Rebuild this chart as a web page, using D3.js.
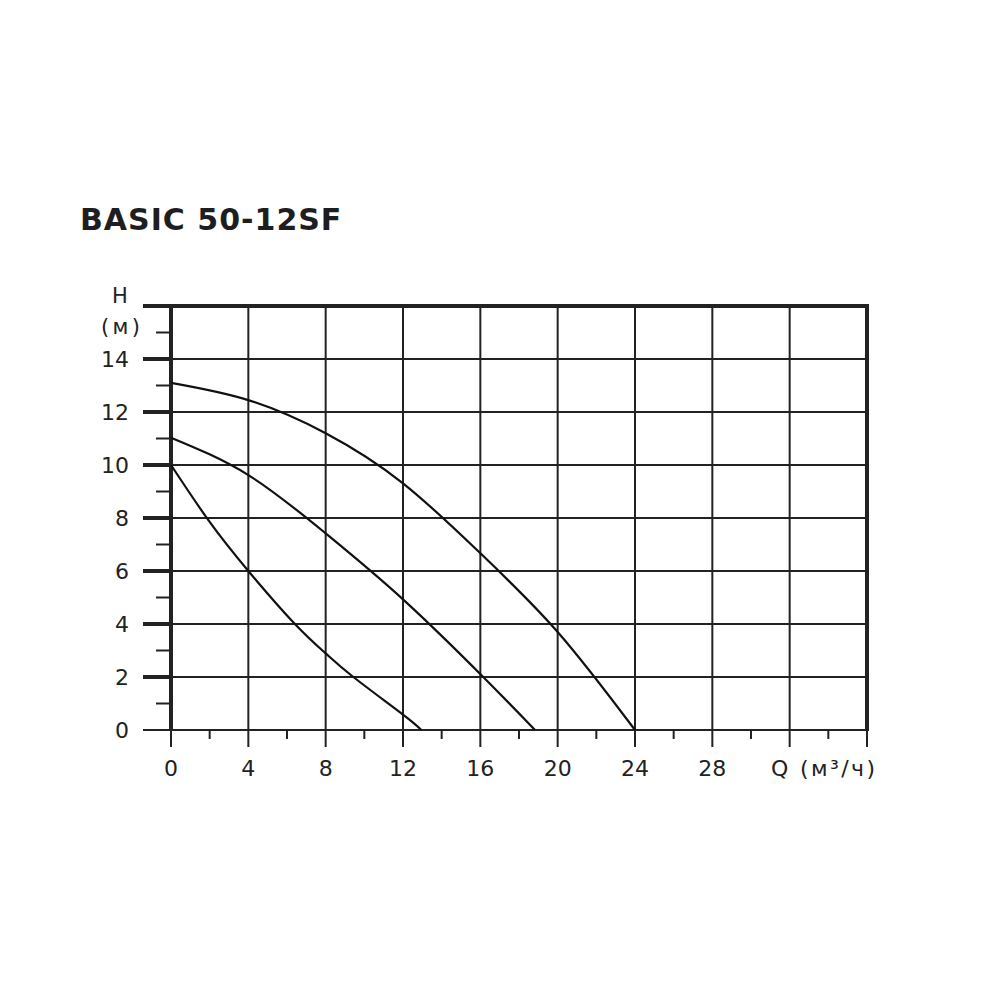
<!DOCTYPE html>
<html>
<head>
<meta charset="utf-8">
<script src="https://cdn.jsdelivr.net/npm/d3@7"></script>
<style>
  html, body { margin: 0; padding: 0; background: #fff; }
  svg { display: block; }
  text { font-family: "DejaVu Sans", Verdana, sans-serif; fill: #222; }
</style>
</head>
<body>
<svg id="chart" width="1000" height="1000"></svg>
<script>
// ---- data ----
const title = "BASIC 50-12SF";
const xTickValues = [0, 4, 8, 12, 16, 20, 24, 28];
const xMinorTicks = [2, 6, 10, 14, 18, 22, 26, 30, 34];
const xGridValues = [4, 8, 12, 16, 20, 24, 28, 32];
const yTickValues = [0, 2, 4, 6, 8, 10, 12, 14];
const yMinorTicks = [1, 3, 5, 7, 9, 11, 13, 15];
const xAxisLabel = "Q (м³/ч)";
const yAxisLabel1 = "H";
const yAxisLabel2 = "(м)";

const curveHighQ = [0, 4, 8, 12, 16, 20, 24];
const curveHighH = [13.1, 12.45, 11.2, 9.31, 6.67, 3.7, 0];
const curveMidQ = [0, 4, 8, 12, 16.15, 18.83];
const curveMidH = [11.03, 9.62, 7.42, 4.93, 2, 0];
const curveLowQ = [0, 2, 4, 6.41, 8, 9.43, 12, 12.95];
const curveLowH = [10, 7.85, 6, 4, 2.89, 2, 0.58, 0];

// ---- layout ----
const svg = d3.select("#chart");
const x = d3.scaleLinear().domain([0, 36]).range([171, 867]);
const y = d3.scaleLinear().domain([0, 16]).range([730, 306]);
const ink = "#222";

// title
svg.append("text")
  .attr("x", 80).attr("y", 230)
  .attr("font-size", 30).attr("font-weight", "bold")
  .attr("letter-spacing", 1)
  .style("fill", "#1e1e1e")
  .text(title);

const g = svg.append("g");

// horizontal grid lines (thin) for even values 2..14
g.selectAll("line.hgrid").data(yTickValues.filter(v => v > 0)).join("line")
  .attr("x1", x(0)).attr("x2", x(36))
  .attr("y1", d => y(d)).attr("y2", d => y(d))
  .attr("stroke", ink).attr("stroke-width", 2);

// vertical grid lines, extending down as ticks
g.selectAll("line.vgrid").data(xGridValues).join("line")
  .attr("x1", d => x(d)).attr("x2", d => x(d))
  .attr("y1", y(16)).attr("y2", y(0) + 17)
  .attr("stroke", ink).attr("stroke-width", 2);

// x minor ticks
g.selectAll("line.xminor").data(xMinorTicks).join("line")
  .attr("x1", d => x(d)).attr("x2", d => x(d))
  .attr("y1", y(0)).attr("y2", y(0) + 9)
  .attr("stroke", ink).attr("stroke-width", 2);

// bottom axis line (y = 0), extends left
g.append("line")
  .attr("x1", x(0) - 28).attr("x2", x(36))
  .attr("y1", y(0)).attr("y2", y(0))
  .attr("stroke", ink).attr("stroke-width", 2);

// x tick at 0 and 36 going down
g.selectAll("line.xend").data([0, 36]).join("line")
  .attr("x1", d => x(d)).attr("x2", d => x(d))
  .attr("y1", y(0)).attr("y2", y(0) + 17)
  .attr("stroke", ink).attr("stroke-width", 2);

// y major ticks (thick), left of axis
g.selectAll("line.ymajor").data(yTickValues.filter(v => v > 0)).join("line")
  .attr("x1", x(0) - 28).attr("x2", x(0))
  .attr("y1", d => y(d)).attr("y2", d => y(d))
  .attr("stroke", ink).attr("stroke-width", 4);

// y minor ticks
g.selectAll("line.yminor").data(yMinorTicks).join("line")
  .attr("x1", x(0) - 15).attr("x2", x(0))
  .attr("y1", d => y(d)).attr("y2", d => y(d))
  .attr("stroke", ink).attr("stroke-width", 2);

// left axis (thick)
g.append("line")
  .attr("x1", x(0)).attr("x2", x(0))
  .attr("y1", y(16) - 2).attr("y2", y(0) + 1)
  .attr("stroke", ink).attr("stroke-width", 4);

// right border (thick)
g.append("line")
  .attr("x1", x(36)).attr("x2", x(36))
  .attr("y1", y(16) - 2).attr("y2", y(0) + 1)
  .attr("stroke", ink).attr("stroke-width", 4);

// top border (thick)
g.append("line")
  .attr("x1", x(0) - 28).attr("x2", x(36) + 2)
  .attr("y1", y(16)).attr("y2", y(16))
  .attr("stroke", ink).attr("stroke-width", 4);

// y tick labels
g.selectAll("text.ylab").data(yTickValues).join("text")
  .attr("x", 129).attr("y", d => y(d))
  .attr("dy", "0.38em")
  .attr("text-anchor", "end")
  .attr("font-size", 22)
  .text(d => d);

// x tick labels
g.selectAll("text.xlab").data(xTickValues).join("text")
  .attr("x", d => x(d)).attr("y", 776)
  .attr("text-anchor", "middle")
  .attr("font-size", 22)
  .text(d => d);

// axis labels
svg.append("text").attr("x", 120).attr("y", 303)
  .attr("text-anchor", "middle").attr("font-size", 21).text(yAxisLabel1);
svg.append("text").attr("x", 101).attr("y", 334)
  .attr("font-size", 21)
  .attr("textLength", 39).attr("lengthAdjust", "spacing")
  .text(yAxisLabel2);
svg.append("text").attr("x", 771).attr("y", 776)
  .attr("font-size", 22)
  .attr("textLength", 104).attr("lengthAdjust", "spacing")
  .text(xAxisLabel);

// curves
const line = d3.line()
  .x(d => x(d[0])).y(d => y(d[1]))
  .curve(d3.curveNatural);

const curves = [
  d3.zip(curveHighQ, curveHighH),
  d3.zip(curveMidQ, curveMidH),
  d3.zip(curveLowQ, curveLowH)
];
g.selectAll("path.curve").data(curves).join("path")
  .attr("d", line)
  .attr("fill", "none")
  .attr("stroke", "#111")
  .attr("stroke-width", 2.2);
</script>
</body>
</html>
